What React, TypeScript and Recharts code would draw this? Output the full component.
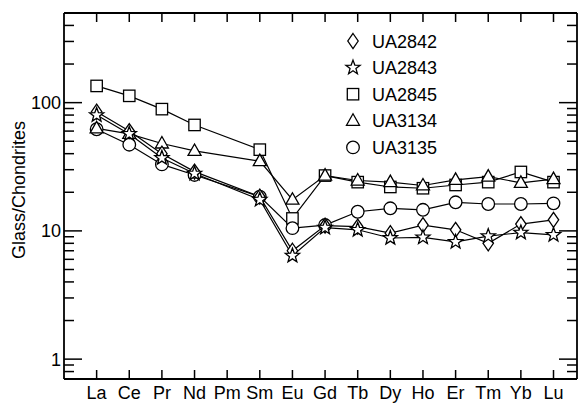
import React from 'react';
import { LineChart, Line, XAxis, YAxis, Legend } from 'recharts';

document.body.style.margin = '0';

const elements = ['La', 'Ce', 'Pr', 'Nd', 'Pm', 'Sm', 'Eu', 'Gd', 'Tb', 'Dy', 'Ho', 'Er', 'Tm', 'Yb', 'Lu'];
const ua2842 = [85, 60, 40, 29, null, 18.5, 7.0, 11.0, 10.8, 9.6, 11.1, 10.2, 8.0, 11.3, 12.2];
const ua2843 = [80, 57, 37, 28, null, 17.5, 6.4, 10.6, 10.2, 8.8, 8.9, 8.2, 9.1, 9.7, 9.3];
const ua2845 = [135, 113, 89, 67, null, 43, 12.5, 27, 24, 22, 21.5, 22.8, 24, 28.8, 24];
const ua3134 = [63, 57, 48, 42, null, 35, 17.5, 27, 24.7, 24, 22.6, 25, 26.5, 23.7, 25.3];
const ua3135 = [62, 47, 33, 27.3, null, 18.5, 10.5, 11.1, 14.1, 15, 14.6, 16.7, 16.2, 16.2, 16.4];

const majorTicks = [1, 10, 100];
const minorTicks = [0.8, 0.9, 2, 3, 4, 5, 6, 7, 8, 9, 20, 30, 40, 50, 60, 70, 80, 90, 200, 300, 400];
const yTicks = [...majorTicks, ...minorTicks].sort((a, b) => a - b);
const xTicks = elements.map((_, i) => i + 1);

const series = [
  { key: 'UA2845', shape: 'square', values: ua2845 },
  { key: 'UA3135', shape: 'circle', values: ua3135 },
  { key: 'UA3134', shape: 'triangle', values: ua3134 },
  { key: 'UA2842', shape: 'diamond', values: ua2842 },
  { key: 'UA2843', shape: 'star', values: ua2843 },
];
const legendOrder = ['UA2842', 'UA2843', 'UA2845', 'UA3134', 'UA3135'];

const FONT = '"Liberation Sans", Arial, sans-serif';
const FS = 18;
const X_DOMAIN: [number, number] = [0, 15.72];
const Y_DOMAIN: [number, number] = [0.7, 500];
const TICK_W = 1.5;

// rows also carry the frame edges so element ticks can be placed through the scales
const data = elements.map((el, i) => {
  const row: any = { x: i + 1, name: el, tickLo: Y_DOMAIN[0], tickHi: Y_DOMAIN[1] };
  series.forEach((s) => { row[s.key] = s.values[i]; });
  return row;
});

const starPath = (cx: number, cy: number, R: number, r: number) => {
  const pts: string[] = [];
  for (let i = 0; i < 10; i++) {
    const a = -Math.PI / 2 + (i * Math.PI) / 5;
    const rad = i % 2 === 0 ? R : r;
    pts.push(`${cx + rad * Math.cos(a)},${cy + rad * Math.sin(a)}`);
  }
  return `M${pts.join('L')}Z`;
};

const Marker = ({ shape, cx, cy }: { shape: string; cx: number; cy: number }) => {
  const common = { fill: '#fff', stroke: '#000', strokeWidth: 1.3 };
  switch (shape) {
    case 'square':
      return <rect x={cx - 5.7} y={cy - 5.7} width={11.4} height={11.4} {...common} />;
    case 'circle':
      return <circle cx={cx} cy={cy} r={6.3} {...common} />;
    case 'triangle':
      return <path d={`M${cx},${cy - 7}L${cx + 6.5},${cy + 4.5}L${cx - 6.5},${cy + 4.5}Z`} {...common} />;
    case 'diamond':
      return <path d={`M${cx},${cy - 7.5}L${cx + 5.2},${cy}L${cx},${cy + 7.5}L${cx - 5.2},${cy}Z`} {...common} />;
    default:
      return <path d={starPath(cx, cy, 7.5, 3.1)} {...common} />;
  }
};

const renderDot = (shape: string) => (p: any) => {
  if (p.cx == null || p.cy == null || p.value == null) return <g key={p.index} />;
  return <Marker key={p.index} shape={shape} cx={p.cx} cy={p.cy} />;
};

const renderXTick = (dir: number) => (p: any) => {
  if (p.cx == null || p.cy == null) return <g key={p.index} />;
  return (
    <path key={p.index} d={`M${p.cx},${p.cy}V${p.cy + dir * 9}`} stroke="#000" strokeWidth={TICK_W} fill="none" />
  );
};

const LegendBox = () => (
  <svg width={140} height={150} style={{ overflow: 'visible' }}>
    {legendOrder.map((k, i) => {
      const s = series.find((e) => e.key === k)!;
      const cy = 16 + i * 26.6;
      return (
        <g key={k}>
          <Marker shape={s.shape} cx={13} cy={cy} />
          <text x={32} y={cy + 6.5} fontSize={FS} fontFamily={FONT} fill="#000">{k}</text>
        </g>
      );
    })}
  </svg>
);

const YLabel = () => {
  const x = 25;
  const y = 190;
  return (
    <text x={x} y={y} transform={`rotate(-90, ${x}, ${y})`} textAnchor="middle" fontSize={FS} fontFamily={FONT} fill="#000">
      Glass/Chondrites
    </text>
  );
};

const isMajor = (v: number) => majorTicks.includes(v);

const BottomLabel = (p: any) => (
  <text x={p.x} y={p.y + 20} textAnchor="middle" fontSize={FS} fontFamily={FONT} fill="#000">
    {elements[p.payload.value - 1]}
  </text>
);

const LeftTick = (p: any) => {
  const { x, y, payload } = p;
  const major = isMajor(payload.value);
  return (
    <g>
      <line x1={x} y1={y} x2={x + (major ? 18 : 10)} y2={y} stroke="#000" strokeWidth={TICK_W} />
      {major && (
        <text x={x - 3} y={y + 6.5} textAnchor="end" fontSize={FS} fontFamily={FONT} fill="#000">
          {payload.value}
        </text>
      )}
    </g>
  );
};

const RightTick = (p: any) => {
  const major = isMajor(p.payload.value);
  return <line x1={p.x} y1={p.y} x2={p.x - (major ? 18 : 10)} y2={p.y} stroke="#000" strokeWidth={TICK_W} />;
};

const axisStroke = { stroke: '#000', strokeWidth: 1.8 };

export default function App() {
  return (
    <div style={{ width: 586, height: 404, background: '#fff' }}>
      <LineChart width={586} height={404} data={data} margin={{ top: 12, right: 8, bottom: 0, left: 0 }}>
        <XAxis
          xAxisId="bottom"
          dataKey="x"
          type="number"
          domain={X_DOMAIN}
          ticks={xTicks}
          height={25}
          tickLine={false}
          tickSize={0}
          tickMargin={0}
          axisLine={axisStroke}
          tick={<BottomLabel />}
        />
        <XAxis
          xAxisId="top"
          dataKey="x"
          orientation="top"
          type="number"
          domain={X_DOMAIN}
          ticks={xTicks}
          height={1}
          tickLine={false}
          tick={false}
          axisLine={axisStroke}
        />
        <YAxis
          yAxisId="left"
          scale="log"
          type="number"
          domain={Y_DOMAIN}
          allowDataOverflow
          ticks={yTicks}
          interval={0}
          width={64}
          tickLine={false}
          tickSize={0}
          tickMargin={0}
          axisLine={axisStroke}
          tick={<LeftTick />}
          label={<YLabel />}
        />
        <YAxis
          yAxisId="right"
          orientation="right"
          scale="log"
          type="number"
          domain={Y_DOMAIN}
          allowDataOverflow
          ticks={yTicks}
          interval={0}
          width={1}
          tickLine={false}
          tickSize={0}
          tickMargin={0}
          axisLine={axisStroke}
          tick={<RightTick />}
        />
        <Line xAxisId="bottom" yAxisId="left" dataKey="tickLo" stroke="none" dot={renderXTick(-1)}
          activeDot={false} legendType="none" isAnimationActive={false} />
        <Line xAxisId="bottom" yAxisId="left" dataKey="tickHi" stroke="none" dot={renderXTick(1)}
          activeDot={false} legendType="none" isAnimationActive={false} />
        {series.map((s) => (
          <Line
            key={`l-${s.key}`}
            xAxisId="bottom"
            yAxisId="left"
            dataKey={s.key}
            stroke="#000"
            strokeWidth={1.2}
            dot={false}
            activeDot={false}
            connectNulls
            legendType="none"
            isAnimationActive={false}
          />
        ))}
        {series.map((s) => (
          <Line
            key={`d-${s.key}`}
            xAxisId="top"
            yAxisId="right"
            dataKey={s.key}
            stroke="none"
            dot={renderDot(s.shape)}
            activeDot={false}
            legendType="none"
            isAnimationActive={false}
          />
        ))}
        <Legend verticalAlign="middle" content={<LegendBox />} wrapperStyle={{ left: 340, top: 25, width: 140, height: 150 }} />
      </LineChart>
    </div>
  );
}
